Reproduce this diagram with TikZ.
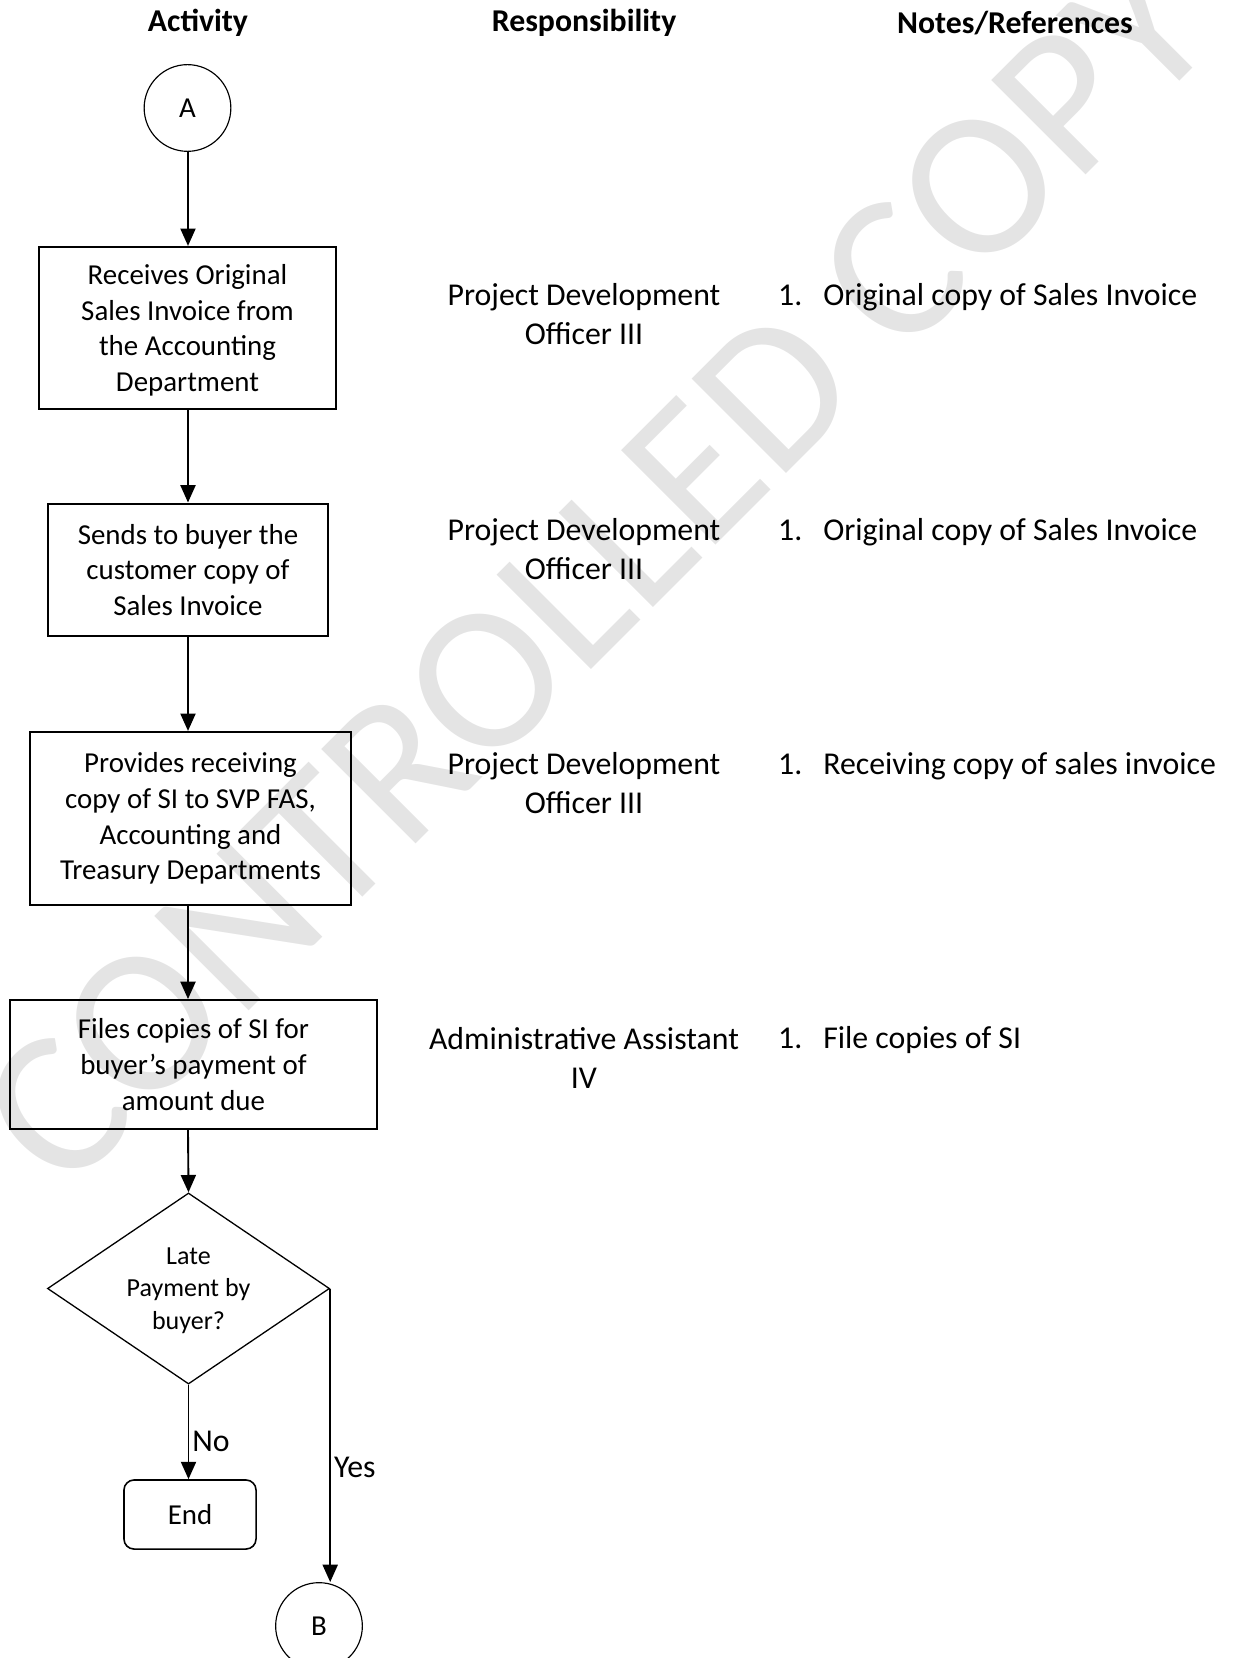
\documentclass[tikz,border=0pt]{standalone}
\usepackage{fontspec}
\setmainfont{Carlito}
\usetikzlibrary{shapes.geometric,arrows.meta}
\definecolor{wmgray}{RGB}{228,228,228}
\newcommand{\noteitem}[1]{\makebox[15.6pt][l]{1.}#1}

\begin{document}
\begin{tikzpicture}
  [x=0.346pt, y=-0.346pt,
    every node/.style={font=\fontsize{11}{13.5}\selectfont},
    head/.style={font=\fontsize{11}{13.5}\bfseries},
    actbox/.style={draw, line width=0.7pt, align=center,
      font=\fontsize{10}{12.4}\selectfont},
    decision/.style={diamond, draw, line width=0.45pt, align=center,
      aspect=1.5, inner sep=0pt, font=\fontsize{9}{11.2}\selectfont},
    terminal/.style={draw, rounded corners=3.5pt, line width=0.55pt,
      minimum width=45.7pt, minimum height=23.9pt,
      font=\fontsize{10}{12}\selectfont},
    connector/.style={circle, draw, line width=0.4pt, minimum size=30pt,
      font=\fontsize{10}{12}\selectfont},
    flow/.style={-{Triangle[length=6pt,width=5.2pt]}, line width=0.65pt},
    branch/.style={right, inner sep=1pt},
    resp/.style={align=center},
    note/.style={anchor=west}]
  \useasboundingbox (0,0) rectangle (1233,1658);

  % watermark
  \node[rotate=45, text=wmgray, font=\fontsize{72}{72}\selectfont] (wmark)
    at (596,570) {CONTROLLED COPY};

  % column heads
  \node[head] (hAct) at (198,23) {Activity};
  \node[head] (hResp) at (584,23) {Responsibility};
  \node[head] (hNotes) at (1015,23) {Notes/References};

  % activity column
  \coordinate (spine) at (188,0);
  \node[connector] (cA) at (187.5,108) {A};
  \node[actbox, minimum width=102.8pt, minimum height=56.1pt, text depth=0pt] (recv)
    at (187.5,328) {Receives Original\\Sales Invoice from\\the Accounting\\Department};
  \node[actbox, minimum width=97.2pt, minimum height=46pt] (send)
    at (188,570) {Sends to buyer the\\customer copy of\\Sales Invoice};
  \node[actbox, minimum width=111.1pt, minimum height=59.9pt] (prov)
    at (190.5,818.5) {Provides receiving\\copy of SI to SVP FAS,\\Accounting and\\Treasury Departments};
  \node[actbox, minimum width=127pt, minimum height=44.6pt] (files)
    at (193.5,1064.5) {Files copies of SI for\\buyer’s payment of\\amount due};
  \node[decision, minimum width=97.6pt, minimum height=66.1pt, text depth=0pt] (late)
    at (188.5,1288.5) {Late\\Payment by\\buyer?};
  \node[terminal] (finish) at (190,1514.5) {End};
  \node[connector] (cB) at (319,1626) {B};

  % responsibility column
  \node[resp] (resp1) at (584,314) {Project Development\\Officer III};
  \node[resp] (resp2) at (584,549.5) {Project Development\\Officer III};
  \node[resp] (resp3) at (584,783.5) {Project Development\\Officer III};
  \node[resp] (resp4) at (584,1057.5) {Administrative Assistant\\IV};

  % notes column
  \node[note] (note1) at (768,297) {\noteitem{Original copy of Sales Invoice}};
  \node[note] (note2) at (768,532) {\noteitem{Original copy of Sales Invoice}};
  \node[note] (note3) at (768,766) {\noteitem{Receiving copy of sales invoice}};
  \node[note] (note4) at (768,1040) {\noteitem{File copies of SI}};

  % connectors
  \draw[flow] (cA.south -| spine) -- (recv.north -| spine);
  \draw[flow] (recv.south -| spine) -- (send.north -| spine);
  \draw[flow] (send.south -| spine) -- (prov.north -| spine);
  \draw[flow] (prov.south -| spine) -- (files.north -| spine);
  \draw[flow] (files.south -| spine) -- (late.north);
  \draw[flow] (late.south) -- node[branch, pos=0.6] {No} (finish.north -| late.south);
  \draw[flow] (late.east) -- node[branch, pos=0.61] {Yes} (late.east |- cB.north);
\end{tikzpicture}
\end{document}
